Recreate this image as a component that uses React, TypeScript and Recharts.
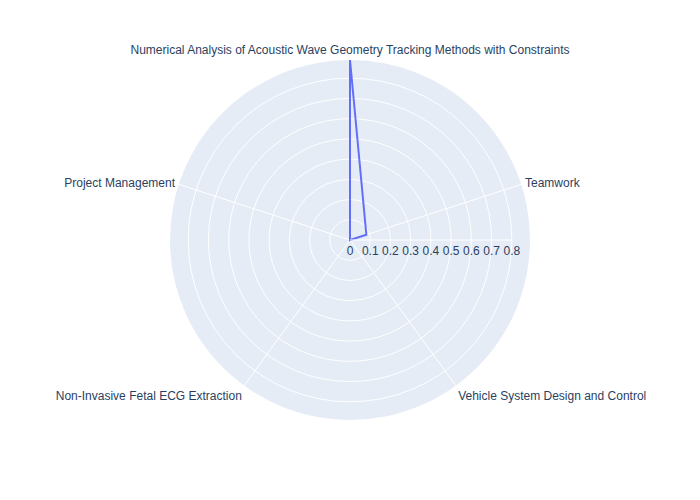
import { RadarChart, Radar, PolarGrid, PolarAngleAxis, PolarRadiusAxis } from 'recharts';

const categories = [
  'Numerical Analysis of Acoustic Wave Geometry Tracking Methods with Constraints',
  'Teamwork',
  'Vehicle System Design and Control',
  'Non-Invasive Fetal ECG Extraction',
  'Project Management',
];
const scores = [0.89, 0.085, 0, 0, 0];
const radiusTicks = [0, 0.1, 0.2, 0.3, 0.4, 0.5, 0.6, 0.7, 0.8];

const CX = 350;
const CY = 240;
const R = 180; // visible plot radius
const RANGE_MAX = 0.89; // value at the plot edge
const SCALE_R = R / RANGE_MAX; // radius that maps to 1.0 (recharts rounds the domain up to 1)
const FONT = '"Liberation Sans", Arial, sans-serif';
const TEXT = '#2a3f5f';

function AngleTick(props: any) {
  const { x, y, payload } = props;
  const a = Math.atan2(CY - y, x - CX);
  const c = Math.cos(a);
  const s = Math.sin(a);
  const px = CX + (R + 4) * c;
  const py = CY - (R + 4) * s;
  const anchor = c > 0.1 ? 'start' : c < -0.1 ? 'end' : 'middle';
  let by = py + 4;
  if (s > 0.9) by = py - 2;
  else if (s < -0.3) by = py + 11;
  return (
    <text x={px} y={by} textAnchor={anchor} fontSize={12} fill={TEXT} fontFamily={FONT}>
      {payload.value}
    </text>
  );
}

function RadiusTick(props: any) {
  const { x, y, payload } = props;
  return (
    <text x={x} y={y + 15} textAnchor="middle" fontSize={12} fill={TEXT} fontFamily={FONT}>
      {payload.value}
    </text>
  );
}

export default function App() {
  const data = categories.map((name, i) => ({ name, value: scores[i] }));
  return (
    <div style={{ position: 'relative', width: 700, height: 500, margin: -8, background: '#fff' }}>
      <div
        style={{
          position: 'absolute',
          left: CX - R,
          top: CY - R,
          width: R * 2,
          height: R * 2,
          borderRadius: '50%',
          background: '#E5ECF6',
        }}
      />
      <div style={{ position: 'absolute', left: 0, top: 0 }}>
        <RadarChart width={700} height={500} data={data} cx={CX} cy={CY} outerRadius={SCALE_R} margin={{ top: 0, right: 0, bottom: 0, left: 0 }}>
          <PolarGrid gridType="circle" stroke="#ffffff" strokeWidth={1} outerRadius={R} />
          <PolarAngleAxis dataKey="name" tick={<AngleTick />} tickLine={false} axisLine={false} />
          <Radar
            dataKey="value"
            stroke="#636efa"
            strokeWidth={2}
            fill="none"
            fillOpacity={0}
            dot={false}
            isAnimationActive={false}
          />
          <PolarRadiusAxis
            angle={0}
            type="number"
            domain={[0, 1]}
            ticks={radiusTicks}
            axisLine={{ stroke: '#ffffff' }}
            tickLine={false}
            tick={<RadiusTick />}
          />
        </RadarChart>
      </div>
    </div>
  );
}
